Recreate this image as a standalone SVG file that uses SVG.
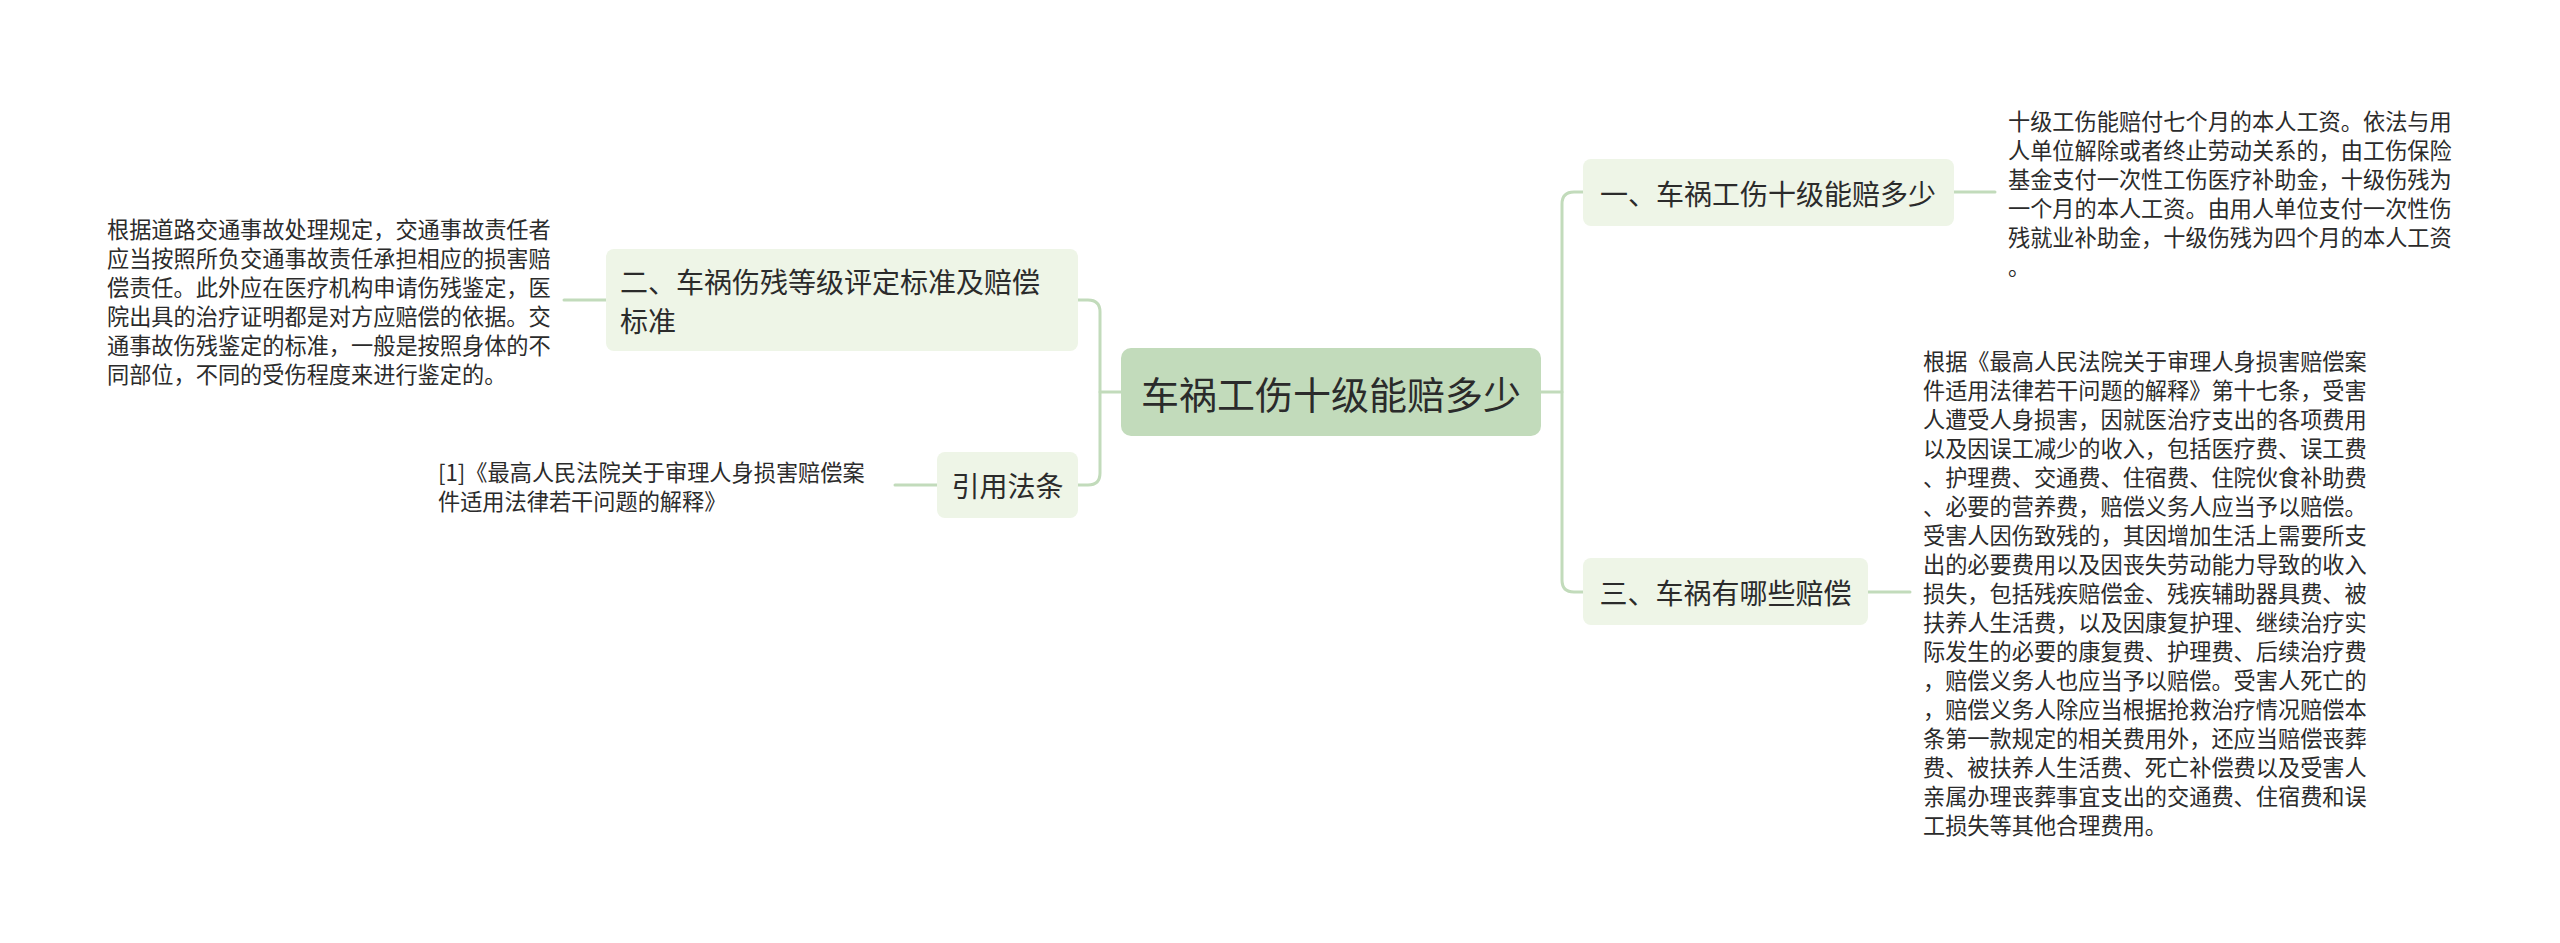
<svg xmlns="http://www.w3.org/2000/svg" width="2560" height="943" viewBox="0 0 2560 943">
<style>
.bg{fill:#ffffff}
.root{fill:#c2dbbb}
.node{fill:#eef5e7}
.t{font-family:"Noto Sans CJK SC","Noto Sans",sans-serif;fill:#2b2b2b;dominant-baseline:central}
.rt{font-size:38px}
.nt{font-size:28px}
.bt{font-size:22.2px}
.conn{fill:none;stroke:#c2dbbb;stroke-width:3;stroke-linecap:round}
</style>
<rect class="bg" x="0" y="0" width="2560" height="943"/>
<g id="connectors">
<path class="conn" d="M1121,392 H1100"/>
<path class="conn" d="M1078,300 H1088 Q1100,300 1100,312 V473 Q1100,485 1088,485 H1078"/>
<path class="conn" d="M1541,392 H1562"/>
<path class="conn" d="M1583,192 H1574 Q1562,192 1562,204 V580 Q1562,592 1574,592 H1583"/>
<path class="conn" d="M1954,192 H1995"/>
<path class="conn" d="M1868,592 H1910"/>
<path class="conn" d="M606,300 H564"/>
<path class="conn" d="M937,485 H895"/>
</g>
<g id="root">
<rect class="root" x="1121" y="348" width="420" height="88" rx="10"/>
<text class="t rt" x="1331" y="392" text-anchor="middle">车祸工伤十级能赔多少</text>
</g>
<g id="node1">
<rect class="node" x="1583" y="159" width="371" height="67" rx="8"/>
<text class="t nt" x="1768" y="192.5" text-anchor="middle">一、车祸工伤十级能赔多少</text>
</g>
<g id="node1-text">
<text class="t bt" x="2008">
<tspan x="2008" y="120">十级工伤能赔付七个月的本人工资。依法与用</tspan>
<tspan x="2008" y="149">人单位解除或者终止劳动关系的，由工伤保险</tspan>
<tspan x="2008" y="178">基金支付一次性工伤医疗补助金，十级伤残为</tspan>
<tspan x="2008" y="207">一个月的本人工资。由用人单位支付一次性伤</tspan>
<tspan x="2008" y="236">残就业补助金，十级伤残为四个月的本人工资</tspan>
<tspan x="2008" y="265">。</tspan>
</text>
</g>
<g id="node3">
<rect class="node" x="1583" y="558" width="285" height="67" rx="8"/>
<text class="t nt" x="1725.5" y="592" text-anchor="middle">三、车祸有哪些赔偿</text>
</g>
<g id="node3-text">
<text class="t bt">
<tspan x="1923" y="360">根据《最高人民法院关于审理人身损害赔偿案</tspan>
<tspan x="1923" y="389">件适用法律若干问题的解释》第十七条，受害</tspan>
<tspan x="1923" y="418">人遭受人身损害，因就医治疗支出的各项费用</tspan>
<tspan x="1923" y="447">以及因误工减少的收入，包括医疗费、误工费</tspan>
<tspan x="1923" y="476">、护理费、交通费、住宿费、住院伙食补助费</tspan>
<tspan x="1923" y="505">、必要的营养费，赔偿义务人应当予以赔偿。</tspan>
<tspan x="1923" y="534">受害人因伤致残的，其因增加生活上需要所支</tspan>
<tspan x="1923" y="563">出的必要费用以及因丧失劳动能力导致的收入</tspan>
<tspan x="1923" y="592">损失，包括残疾赔偿金、残疾辅助器具费、被</tspan>
<tspan x="1923" y="621">扶养人生活费，以及因康复护理、继续治疗实</tspan>
<tspan x="1923" y="650">际发生的必要的康复费、护理费、后续治疗费</tspan>
<tspan x="1923" y="679">，赔偿义务人也应当予以赔偿。受害人死亡的</tspan>
<tspan x="1923" y="708">，赔偿义务人除应当根据抢救治疗情况赔偿本</tspan>
<tspan x="1923" y="737">条第一款规定的相关费用外，还应当赔偿丧葬</tspan>
<tspan x="1923" y="766">费、被扶养人生活费、死亡补偿费以及受害人</tspan>
<tspan x="1923" y="795">亲属办理丧葬事宜支出的交通费、住宿费和误</tspan>
<tspan x="1923" y="824">工损失等其他合理费用。</tspan>
</text>
</g>
<g id="node2">
<rect class="node" x="606" y="249" width="472" height="102" rx="8"/>
<text class="t nt">
<tspan x="620" y="280.5">二、车祸伤残等级评定标准及赔偿</tspan>
<tspan x="620" y="319.5">标准</tspan>
</text>
</g>
<g id="node2-text">
<text class="t bt">
<tspan x="107" y="227.5">根据道路交通事故处理规定，交通事故责任者</tspan>
<tspan x="107" y="256.5">应当按照所负交通事故责任承担相应的损害赔</tspan>
<tspan x="107" y="285.5">偿责任。此外应在医疗机构申请伤残鉴定，医</tspan>
<tspan x="107" y="314.5">院出具的治疗证明都是对方应赔偿的依据。交</tspan>
<tspan x="107" y="343.5">通事故伤残鉴定的标准，一般是按照身体的不</tspan>
<tspan x="107" y="372.5">同部位，不同的受伤程度来进行鉴定的。</tspan>
</text>
</g>
<g id="node4">
<rect class="node" x="937" y="452" width="141" height="66" rx="8"/>
<text class="t nt" x="1007.5" y="485" text-anchor="middle">引用法条</text>
</g>
<g id="node4-text">
<text class="t bt">
<tspan x="438" y="470.5">[1]《最高人民法院关于审理人身损害赔偿案</tspan>
<tspan x="438" y="499.5">件适用法律若干问题的解释》</tspan>
</text>
</g>
</svg>
